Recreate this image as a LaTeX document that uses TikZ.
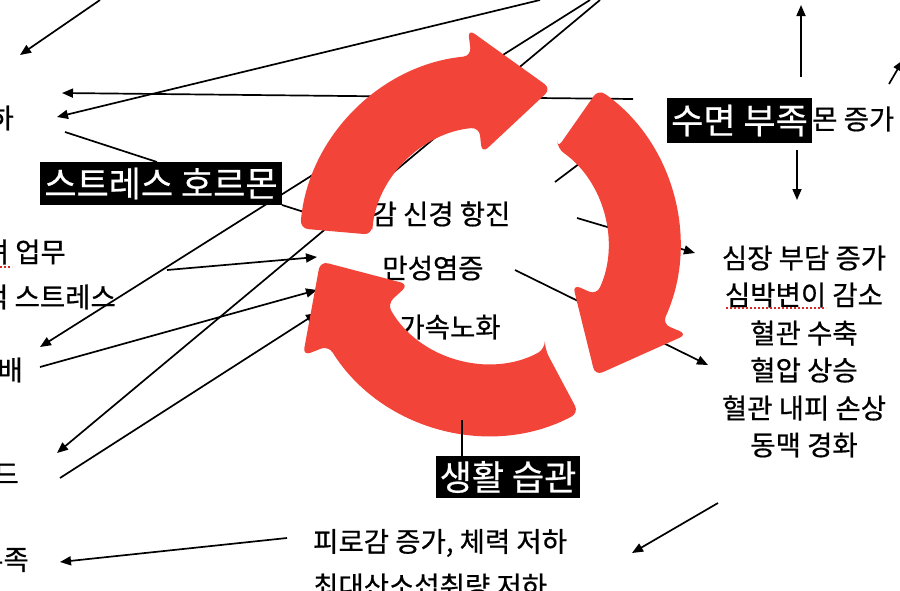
\documentclass[tikz,border=0pt]{standalone}
\usepackage{fontspec}
\setmainfont{Noto Sans CJK KR}[FakeBold=0.6]
\usetikzlibrary{arrows.meta}
\definecolor{ringred}{RGB}{242,68,56}
\definecolor{spellred}{RGB}{215,40,40}
\begin{document}
\begin{tikzpicture}[x=1pt,y=-1pt,
  txt/.style={inner sep=0pt, font=\fontsize{27.5}{32}\selectfont, text=black},
  lbl/.style={fill=black, text=white, inner sep=0pt, font=\fontsize{35}{40}\selectfont},
  conn/.style={draw=black, line width=1.7pt},
  arr/.style={conn, -{Triangle[length=11pt,width=9pt]}},
  spell/.style={draw=spellred, line width=1.2pt, dash pattern=on 2pt off 2pt},
  redarrow/.style={fill=ringred, rounded corners=8pt},
]
\useasboundingbox[fill=white] (0,0) rectangle (900,590);

% ---------- texts ----------
\node[txt, anchor=east] (tHa) at (14,118) {하};
\node[txt, anchor=east] (tUpmu) at (66,252) {려 업무};
\node[txt, anchor=east] (tStress) at (116,297) {적 스트레스};
\node[txt, anchor=east] (tBae) at (23,370) {배};
\node[txt, anchor=east] (tDeu) at (19,474) {드};
\node[txt, anchor=east] (tBujok) at (29,560) {부족};
\draw[spell] (0,267) -- (12,267);

\node[txt] (tSym) at (441,214) {감 신경 항진};
\node[txt] (tInfl) at (433,268) {만성염증};
\node[txt] (tAging) at (450,327) {가속노화};

\node[txt] (r1) at (804,258) {심장 부담 증가};
\node[txt] (r2) at (804,295) {심박변이 감소};
\node[txt] (r3) at (804,333) {혈관 수축};
\node[txt] (r4) at (804,370) {혈압 상승};
\node[txt] (r5) at (804,408) {혈관 내피 손상};
\node[txt] (r6) at (804,445) {동맥 경화};
\draw[spell] (726,308) -- (826,308);

\node[txt, anchor=west] (tHorm) at (812,119) {몬 증가};
\node[txt, anchor=west] (b1) at (313,543) {피로감 증가, 체력 저하};
\node[txt, anchor=west] (b2) at (313,586) {최대산소섭취량 저하};

% ---------- connector end points ----------
\coordinate (p1s) at (100,0);   \coordinate (p1e) at (20,55);
\coordinate (p2s) at (633,99);  \coordinate (p2e) at (62,93);
\coordinate (p3s) at (540,0);   \coordinate (p3e) at (57,117);
\coordinate (p4s) at (65,132);  \coordinate (p4e) at (157,162);
\coordinate (p5s) at (590,0);   \coordinate (p5e) at (40,347);
\coordinate (p6s) at (600,0);   \coordinate (p6e) at (57,453);
\coordinate (p7s) at (282,205); \coordinate (p7e) at (345,225);
\coordinate (p8s) at (167,270); \coordinate (p8e) at (317,257);
\coordinate (p9s) at (40,367);  \coordinate (p9e) at (317,290);
\coordinate (p10s) at (60,478); \coordinate (p10e) at (317,313);
\coordinate (p11s) at (555,182); \coordinate (p11e) at (608,142);
\coordinate (p12s) at (577,218); \coordinate (p12e) at (695,253);
\coordinate (p13s) at (515,270); \coordinate (p13e) at (708,365);
\coordinate (p14s) at (801,77);  \coordinate (p14e) at (801,5);
\coordinate (p15s) at (797,150); \coordinate (p15e) at (797,200);
\coordinate (p16s) at (889,84);  \coordinate (p16e) at (903,60);
\coordinate (p17s) at (287,538); \coordinate (p17e) at (60,562);
\coordinate (p18s) at (718,503); \coordinate (p18e) at (632,553);
\coordinate (p19e) at (462,420);

% ---------- connectors ----------
\draw[arr] (p1s) -- (p1e);
\draw[arr] (p2s) -- (p2e);
\draw[arr] (p3s) -- (p3e);
\draw[conn] (p4s) -- (p4e);
\draw[arr] (p5s) -- (p5e);
\draw[arr] (p6s) -- (p6e);
\draw[conn] (p7s) -- (p7e);
\draw[arr] (p8s) -- (p8e);
\draw[arr] (p9s) -- (p9e);
\draw[arr] (p10s) -- (p10e);
\draw[conn] (p11s) -- (p11e);
\draw[arr] (p12s) -- (p12e);
\draw[arr] (p13s) -- (p13e);
\draw[arr] (p14s) -- (p14e);
\draw[arr] (p15s) -- (p15e);
\draw[arr] (p16s) -- (p16e);
\draw[arr] (p17s) -- (p17e);
\draw[arr] (p18s) -- (p18e);

% ---------- red cycle arrows ----------
\begin{scope}[shift={(489.5,245)}, yscale=-1]
  % top arrow
  \fill[redarrow]
    (175:118) -- (175:190) arc[start angle=175, end angle=95.5, radius=190]
    -- (95.7:217) -- (68.5:168) -- (94.7:92) -- (95:118)
    arc[start angle=95, end angle=175, radius=118] -- cycle;
  % right arrow
  \fill[redarrow]
    (55:118) -- (55:190) arc[start angle=55, end angle=-24.5, radius=190]
    -- (-24.3:217) -- (-51:168) -- (-25.3:92) -- (-25:118)
    arc[start angle=-25, end angle=55, radius=118] -- cycle;
  % bottom-left arrow
  \fill[redarrow]
    (-62:118) -- (-62:190) arc[start angle=-62, end angle=-148, radius=190]
    -- (-149.3:217) -- (-174.5:170) -- (-154:90) -- (-150:118)
    arc[start angle=-150, end angle=-62, radius=118] -- cycle;
\end{scope}

% ---------- black labels ----------
\node[lbl, minimum width=242pt, minimum height=43pt] (bStress) at (161,183.5) {스트레스 호르몬};
\node[lbl, minimum width=145pt, minimum height=45pt] (bSleep) at (739.5,120.5) {수면 부족};
\node[lbl, minimum width=144pt, minimum height=42pt] (bLife) at (508,477) {생활 습관};
\draw[conn] (bLife.north -| p19e) -- (p19e);
\end{tikzpicture}
\end{document}
